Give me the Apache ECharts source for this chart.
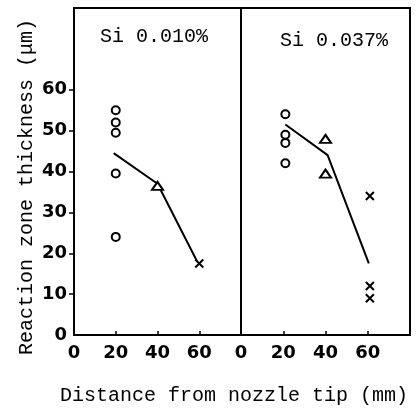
<!DOCTYPE html>
<html>
<head>
<meta charset="utf-8">
<script src="https://cdn.jsdelivr.net/npm/echarts@6/dist/echarts.min.js"></script>
<style>
  html, body { margin: 0; padding: 0; background: #fff; }
  #chart { width: 419px; height: 411px; }
</style>
</head>
<body>
<div id="chart"></div>
<script>
// panel labels and axis ticks
var panelTitles = ['Si 0.010%', 'Si 0.037%'];
var xTickLabels = [0, 20, 40, 60];
var yTickLabels = [0, 10, 20, 30, 40, 50, 60];

// Si 0.010 %  (x = distance mm, y = thickness um)
var leftCircles = [[20, 55], [20, 52], [20, 49.5], [20, 39.5], [20, 24]];
var leftTriangles = [[40, 36.5]];
var leftCrosses = [[60, 17.5]];
var leftLine = [[19, 44.5], [40, 37], [59, 18]];

// Si 0.037 %
var rightCircles = [[21, 54], [21, 49], [21, 47], [21, 42]];
var rightTriangles = [[40, 48], [40, 39.5]];
var rightCrosses = [[61, 34], [61, 12], [61, 9]];
var rightLine = [[21, 51.5], [41, 44], [60.5, 17.5]];

var monoFont = '"Liberation Mono", "DejaVu Sans Mono", monospace';
var tickFont = '"DejaVu Sans", sans-serif';
var crossPath = 'path://M0,0L10,10M10,0L0,10';

var chart = echarts.init(document.getElementById('chart'));

function xAxisFor(idx) {
    return {
        type: 'value', gridIndex: idx, min: 0, max: 80, interval: 20,
        axisLine: { show: true, lineStyle: { color: '#000', width: 2 } },
        axisTick: { show: true, inside: true, length: 4, lineStyle: { color: '#000', width: 1.5 },
                    customValues: [20, 40, 60] },
        axisLabel: { customValues: xTickLabels, color: '#000', fontFamily: tickFont,
                     fontWeight: 'bold', fontSize: 18, margin: 9 },
        splitLine: { show: false }
    };
}

function yAxisFor(idx) {
    var showIt = idx === 0;
    return {
        type: 'value', gridIndex: idx, min: 0, max: 80, interval: 10,
        axisLine: { show: true, lineStyle: { color: '#000', width: 2 } },
        axisTick: { show: showIt, length: 5, lineStyle: { color: '#000', width: 1.5 },
                    customValues: [10, 20, 30, 40, 50, 60] },
        axisLabel: { show: showIt, customValues: yTickLabels, color: '#000', fontFamily: tickFont,
                     fontWeight: 'bold', fontSize: 18, margin: 7 },
        splitLine: { show: false }
    };
}

function marks(data, idx, symbol, size) {
    return {
        type: 'scatter', xAxisIndex: idx, yAxisIndex: idx, data: data,
        symbol: symbol, symbolSize: size, silent: true, z: 3,
        itemStyle: { color: symbol === crossPath ? 'none' : '#fff', borderColor: '#000', borderWidth: 2, opacity: 1 }
    };
}

function fitLine(data, idx) {
    return {
        type: 'line', xAxisIndex: idx, yAxisIndex: idx, data: data,
        symbol: 'none', silent: true, z: 2,
        lineStyle: { color: '#000', width: 2 }
    };
}

var option = {
    animation: false,
    backgroundColor: '#fff',
    grid: [
        { left: 74, top: 8, width: 167, bottom: 76, show: true, borderColor: '#000', borderWidth: 2 },
        { left: 241, top: 8, right: 9, bottom: 76, show: true, borderColor: '#000', borderWidth: 2 }
    ],
    xAxis: [xAxisFor(0), xAxisFor(1)],
    yAxis: [yAxisFor(0), yAxisFor(1)],
    graphic: [
        { type: 'text', left: 100, top: 27, style: { text: panelTitles[0], font: '20px ' + monoFont, fill: '#000' } },
        { type: 'text', left: 280, top: 31, style: { text: panelTitles[1], font: '20px ' + monoFont, fill: '#000' } },
        { type: 'text', x: 27, y: 187, rotation: Math.PI / 2,
          style: { text: 'Reaction zone thickness (μm)', font: '20px ' + monoFont, fill: '#000',
                   align: 'center', verticalAlign: 'middle' } },
        { type: 'text', x: 234, y: 396,
          style: { text: 'Distance from nozzle tip (mm)', font: '20px ' + monoFont, fill: '#000',
                   align: 'center', verticalAlign: 'middle' } }
    ],
    series: [
        fitLine(leftLine, 0),
        marks(leftCircles, 0, 'circle', 8),
        marks(leftTriangles, 0, 'triangle', [11, 8]),
        marks(leftCrosses, 0, crossPath, 8),
        fitLine(rightLine, 1),
        marks(rightCircles, 1, 'circle', 8),
        marks(rightTriangles, 1, 'triangle', [11, 8]),
        marks(rightCrosses, 1, crossPath, 8)
    ]
};
chart.setOption(option);
</script>
</body>
</html>
